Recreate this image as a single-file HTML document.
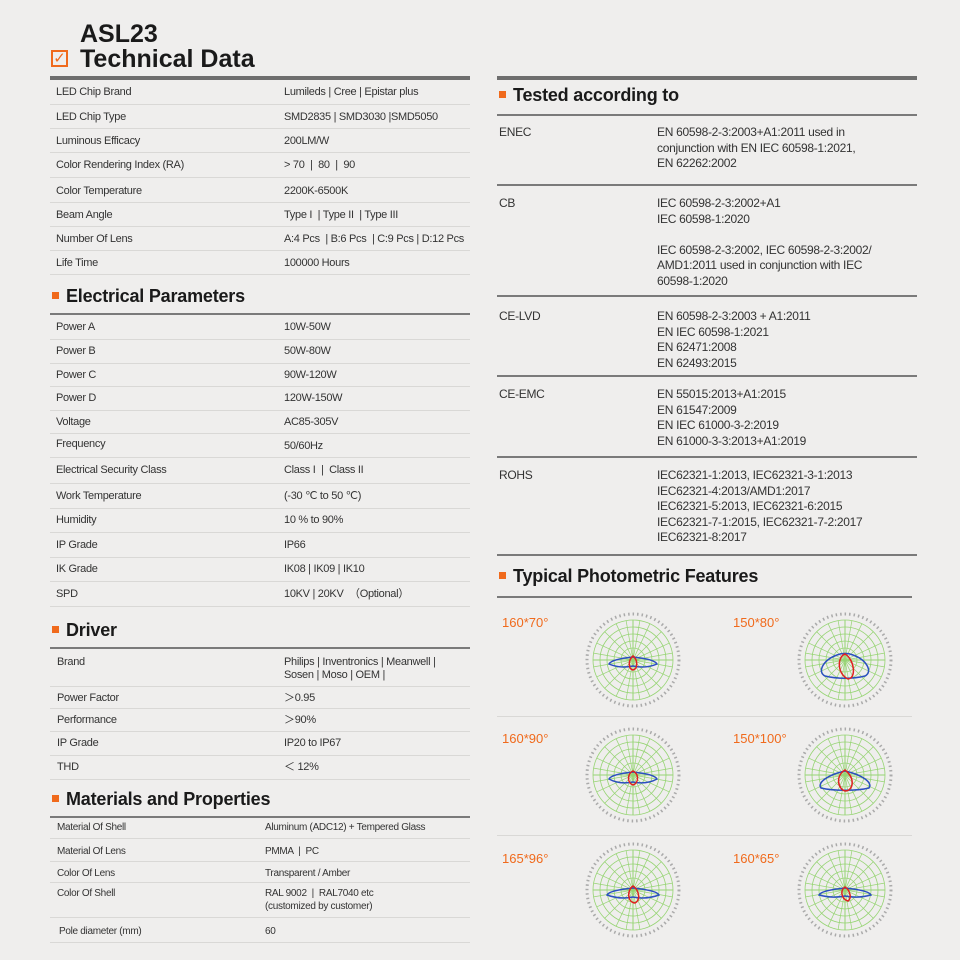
<!DOCTYPE html>
<html><head><meta charset="utf-8"><style>
body{margin:0;width:960px;height:960px;background:#efeeed;position:relative;overflow:hidden;font-family:"Liberation Sans",sans-serif;color:#333}
.t{position:absolute;white-space:nowrap;font-size:11px;line-height:13px;letter-spacing:-0.3px}
.r{position:absolute;white-space:nowrap;font-size:12px;line-height:15.5px;letter-spacing:-0.3px;color:#333}
.h{position:absolute;white-space:nowrap;font-size:18px;font-weight:bold;color:#1a1a1a;letter-spacing:-0.2px}
.h:before{content:"";display:inline-block;width:7px;height:7px;background:#f06a1c;margin-right:7px;vertical-align:3px}
.l{position:absolute;height:1px;background:#d9d8d6}
.L{position:absolute;height:2px;background:#7a7a7a}
.o{position:absolute;font-size:13px;color:#f06a1c;white-space:nowrap}
</style></head><body>
<div style="position:absolute;left:80px;top:20px;font-size:25px;font-weight:bold;color:#1a1a1a">ASL23</div>
<div style="position:absolute;left:51px;top:50px;width:17px;height:17px;border:2px solid #f06a1c;box-sizing:border-box;color:#f06a1c;font-size:15px;line-height:13px;text-align:center">✓</div>
<div style="position:absolute;left:80px;top:45px;font-size:25px;font-weight:bold;color:#1a1a1a">Technical Data</div>
<div style="position:absolute;left:50px;top:76px;width:420px;height:4px;background:#6e6e6e"></div>
<div style="position:absolute;left:497px;top:76px;width:420px;height:4px;background:#6e6e6e"></div>

<div class="t" style="left:56px;top:86px">LED Chip Brand</div><div class="t" style="left:284px;top:86px">Lumileds | Cree | Epistar plus</div>
<div class="l" style="left:50px;width:420px;top:104px"></div>
<div class="t" style="left:56px;top:111px">LED Chip Type</div><div class="t" style="left:284px;top:111px">SMD2835 | SMD3030 |SMD5050</div>
<div class="l" style="left:50px;width:420px;top:128px"></div>
<div class="t" style="left:56px;top:135px">Luminous Efficacy</div><div class="t" style="left:284px;top:135px">200LM/W</div>
<div class="l" style="left:50px;width:420px;top:152px"></div>
<div class="t" style="left:56px;top:159px">Color Rendering Index (RA)</div><div class="t" style="left:284px;top:159px">&gt; 70 &nbsp;| &nbsp;80 &nbsp;| &nbsp;90</div>
<div class="l" style="left:50px;width:420px;top:177px"></div>
<div class="t" style="left:56px;top:185px">Color Temperature</div><div class="t" style="left:284px;top:185px">2200K-6500K</div>
<div class="l" style="left:50px;width:420px;top:202px"></div>
<div class="t" style="left:56px;top:209px">Beam Angle</div><div class="t" style="left:284px;top:209px">Type I &nbsp;| Type II &nbsp;| Type III</div>
<div class="l" style="left:50px;width:420px;top:226px"></div>
<div class="t" style="left:56px;top:233px">Number Of Lens</div><div class="t" style="left:284px;top:233px">A:4 Pcs &nbsp;| B:6 Pcs &nbsp;| C:9 Pcs | D:12 Pcs</div>
<div class="l" style="left:50px;width:420px;top:250px"></div>
<div class="t" style="left:56px;top:257px">Life Time</div><div class="t" style="left:284px;top:257px">100000 Hours</div>
<div class="l" style="left:50px;width:420px;top:274px"></div>

<div class="h" style="left:52px;top:286px">Electrical Parameters</div>
<div class="L" style="left:50px;width:420px;top:313px"></div>
<div class="t" style="left:56px;top:321px">Power A</div><div class="t" style="left:284px;top:321px">10W-50W</div>
<div class="l" style="left:50px;width:420px;top:339px"></div>
<div class="t" style="left:56px;top:345px">Power B</div><div class="t" style="left:284px;top:345px">50W-80W</div>
<div class="l" style="left:50px;width:420px;top:363px"></div>
<div class="t" style="left:56px;top:369px">Power C</div><div class="t" style="left:284px;top:369px">90W-120W</div>
<div class="l" style="left:50px;width:420px;top:386px"></div>
<div class="t" style="left:56px;top:392px">Power D</div><div class="t" style="left:284px;top:392px">120W-150W</div>
<div class="l" style="left:50px;width:420px;top:410px"></div>
<div class="t" style="left:56px;top:416px">Voltage</div><div class="t" style="left:284px;top:416px">AC85-305V</div>
<div class="l" style="left:50px;width:420px;top:433px"></div>
<div class="t" style="left:56px;top:438px">Frequency</div><div class="t" style="left:284px;top:440px">50/60Hz</div>
<div class="l" style="left:50px;width:420px;top:457px"></div>
<div class="t" style="left:56px;top:464px">Electrical Security Class</div><div class="t" style="left:284px;top:464px">Class I &nbsp;| &nbsp;Class II</div>
<div class="l" style="left:50px;width:420px;top:483px"></div>
<div class="t" style="left:56px;top:490px">Work Temperature</div><div class="t" style="left:284px;top:490px">(-30 ℃ to 50 ℃)</div>
<div class="l" style="left:50px;width:420px;top:508px"></div>
<div class="t" style="left:56px;top:514px">Humidity</div><div class="t" style="left:284px;top:514px">10 % to 90%</div>
<div class="l" style="left:50px;width:420px;top:532px"></div>
<div class="t" style="left:56px;top:539px">IP Grade</div><div class="t" style="left:284px;top:539px">IP66</div>
<div class="l" style="left:50px;width:420px;top:557px"></div>
<div class="t" style="left:56px;top:563px">IK Grade</div><div class="t" style="left:284px;top:563px">IK08 | IK09 | IK10</div>
<div class="l" style="left:50px;width:420px;top:581px"></div>
<div class="t" style="left:56px;top:588px">SPD</div><div class="t" style="left:284px;top:588px">10KV | 20KV &nbsp;（Optional）</div>
<div class="l" style="left:50px;width:420px;top:606px"></div>

<div class="h" style="left:52px;top:620px">Driver</div>
<div class="L" style="left:50px;width:420px;top:647px"></div>
<div class="t" style="left:57px;top:656px">Brand</div><div class="t" style="left:284px;top:656px">Philips | Inventronics | Meanwell |</div><div class="t" style="left:284px;top:669px">Sosen | Moso | OEM |</div>
<div class="l" style="left:50px;width:420px;top:686px"></div>
<div class="t" style="left:57px;top:692px">Power Factor</div><div class="t" style="left:284px;top:692px">＞0.95</div>
<div class="l" style="left:50px;width:420px;top:708px"></div>
<div class="t" style="left:57px;top:714px">Performance</div><div class="t" style="left:284px;top:714px">＞90%</div>
<div class="l" style="left:50px;width:420px;top:731px"></div>
<div class="t" style="left:57px;top:737px">IP Grade</div><div class="t" style="left:284px;top:737px">IP20 to IP67</div>
<div class="l" style="left:50px;width:420px;top:755px"></div>
<div class="t" style="left:57px;top:761px">THD</div><div class="t" style="left:284px;top:761px">＜ 12%</div>
<div class="l" style="left:50px;width:420px;top:779px"></div>

<div class="h" style="left:52px;top:789px">Materials and Properties</div>
<div class="L" style="left:50px;width:420px;top:816px"></div>
<div class="t" style="left:57px;top:821px;font-size:10px">Material Of Shell</div><div class="t" style="left:265px;top:821px;font-size:10px">Aluminum (ADC12) + Tempered Glass</div>
<div class="l" style="left:50px;width:420px;top:838px"></div>
<div class="t" style="left:57px;top:845px;font-size:10px">Material Of Lens</div><div class="t" style="left:265px;top:845px;font-size:10px">PMMA &nbsp;| &nbsp;PC</div>
<div class="l" style="left:50px;width:420px;top:861px"></div>
<div class="t" style="left:57px;top:867px;font-size:10px">Color Of Lens</div><div class="t" style="left:265px;top:867px;font-size:10px">Transparent / Amber</div>
<div class="l" style="left:50px;width:420px;top:882px"></div>
<div class="t" style="left:57px;top:887px;font-size:10px">Color Of Shell</div><div class="t" style="left:265px;top:887px;font-size:10px">RAL 9002 &nbsp;| &nbsp;RAL7040 etc</div><div class="t" style="left:265px;top:900px;font-size:10px">(customized by customer)</div>
<div class="l" style="left:50px;width:420px;top:917px"></div>
<div class="t" style="left:59px;top:925px;font-size:10px">Pole diameter (mm)</div><div class="t" style="left:265px;top:925px;font-size:10px">60</div>
<div class="l" style="left:50px;width:420px;top:942px"></div>

<div class="h" style="left:499px;top:85px">Tested according to</div>
<div class="L" style="left:497px;width:420px;top:114px;height:2px"></div>
<div class="r" style="left:499px;top:125px">ENEC</div>
<div class="r" style="left:657px;top:125px">EN 60598-2-3:2003+A1:2011 used in<br>conjunction with EN IEC 60598-1:2021,<br>EN 62262:2002</div>
<div class="L" style="left:497px;width:420px;top:184px"></div>
<div class="r" style="left:499px;top:196px">CB</div>
<div class="r" style="left:657px;top:196px">IEC 60598-2-3:2002+A1<br>IEC 60598-1:2020<br><br>IEC 60598-2-3:2002, IEC 60598-2-3:2002/<br>AMD1:2011 used in conjunction with IEC<br>60598-1:2020</div>
<div class="L" style="left:497px;width:420px;top:295px"></div>
<div class="r" style="left:499px;top:309px">CE-LVD</div>
<div class="r" style="left:657px;top:309px">EN 60598-2-3:2003 + A1:2011<br>EN IEC 60598-1:2021<br>EN 62471:2008<br>EN 62493:2015</div>
<div class="L" style="left:497px;width:420px;top:375px"></div>
<div class="r" style="left:499px;top:387px">CE-EMC</div>
<div class="r" style="left:657px;top:387px">EN 55015:2013+A1:2015<br>EN 61547:2009<br>EN IEC 61000-3-2:2019<br>EN 61000-3-3:2013+A1:2019</div>
<div class="L" style="left:497px;width:420px;top:456px"></div>
<div class="r" style="left:499px;top:468px">ROHS</div>
<div class="r" style="left:657px;top:468px">IEC62321-1:2013, IEC62321-3-1:2013<br>IEC62321-4:2013/AMD1:2017<br>IEC62321-5:2013, IEC62321-6:2015<br>IEC62321-7-1:2015, IEC62321-7-2:2017<br>IEC62321-8:2017</div>
<div class="L" style="left:497px;width:420px;top:554px"></div>
<div class="h" style="left:499px;top:566px">Typical Photometric Features</div>
<div class="L" style="left:497px;width:415px;top:596px"></div>
<div class="l" style="left:497px;width:415px;top:716px"></div>
<div class="l" style="left:497px;width:415px;top:835px"></div>

<div class="o" style="left:502px;top:615px">160*70°</div>
<div class="o" style="left:733px;top:615px">150*80°</div>
<div class="o" style="left:502px;top:731px">160*90°</div>
<div class="o" style="left:733px;top:731px">150*100°</div>
<div class="o" style="left:502px;top:851px">165*96°</div>
<div class="o" style="left:733px;top:851px">160*65°</div>

<svg width="960" height="960" style="position:absolute;left:0;top:0">
<defs>
<g id="g" stroke="#96d473" stroke-width="0.8" fill="none">
<circle r="40"/><circle r="33"/><circle r="26"/><circle r="19"/><circle r="12"/>
<g stroke-width="0.7">
<line x1="-40" y1="0" x2="40" y2="0" stroke-width="1"/><line x1="0" y1="-40" x2="0" y2="40" stroke-width="1"/>
<line x1="-36.3" y1="-16.9" x2="36.3" y2="16.9"/><line x1="-36.3" y1="16.9" x2="36.3" y2="-16.9"/>
<line x1="-28.3" y1="-28.3" x2="28.3" y2="28.3"/><line x1="-28.3" y1="28.3" x2="28.3" y2="-28.3"/>
<line x1="-16.9" y1="-36.3" x2="16.9" y2="36.3"/><line x1="-16.9" y1="36.3" x2="16.9" y2="-36.3"/>
<line x1="-39.4" y1="-6.9" x2="39.4" y2="6.9"/><line x1="-39.4" y1="6.9" x2="39.4" y2="-6.9"/>
<line x1="-6.9" y1="-39.4" x2="6.9" y2="39.4"/><line x1="-6.9" y1="39.4" x2="6.9" y2="-39.4"/>
</g>
<circle r="46" stroke="#aaa" stroke-width="3" stroke-dasharray="1.5 3"/>
</g>
</defs>
<g transform="translate(633,660)"><use href="#g"/>
<path d="M0,-3 C-10,-2 -22,0 -24,4 C-15,8 -5,7 0,6 C5,7 15,8 24,4 C22,0 10,-2 0,-3Z" fill="none" stroke="#2b4fc0" stroke-width="1.5"/>
<path d="M0,-4 C-5,0 -5,9 0,10 C5,9 5,0 0,-4Z" fill="none" stroke="#e02020" stroke-width="1.5"/></g>
<g transform="translate(845,660)"><use href="#g"/>
<path d="M-8,-5 C-22,0 -28,12 -20,16 C-8,19 8,19 20,16 C28,12 22,0 8,-5 C3,-7 -3,-7 -8,-5Z" fill="none" stroke="#2b4fc0" stroke-width="1.5"/>
<path d="M0,-6 C-8,-3 -8,14 3,19 C12,18 9,-1 0,-6Z" fill="none" stroke="#e02020" stroke-width="1.5"/></g>
<g transform="translate(633,775)"><use href="#g"/>
<path d="M0,-3 C-10,-2 -22,0 -24,4 C-15,9 -5,8 0,7 C5,8 15,9 24,4 C22,0 10,-2 0,-3Z" fill="none" stroke="#2b4fc0" stroke-width="1.5"/>
<path d="M0,-4 C-6,-1 -6,8 0,10 C6,8 6,-1 0,-4Z" fill="none" stroke="#e02020" stroke-width="1.5"/></g>
<g transform="translate(845,775)"><use href="#g"/>
<path d="M0,-4 C-18,0 -28,8 -24,13 C-12,16 12,16 24,13 C28,8 18,0 0,-4Z" fill="none" stroke="#2b4fc0" stroke-width="1.5"/>
<path d="M0,-5 C-10,1 -7,14 0,16 C8,16 11,4 0,-5Z" fill="none" stroke="#e02020" stroke-width="1.5"/></g>
<g transform="translate(633,890)"><use href="#g"/>
<path d="M0,-2 C-10,-1 -24,1 -26,5 C-15,9 -5,8 0,7 C5,8 15,9 26,5 C24,1 10,-1 0,-2Z" fill="none" stroke="#2b4fc0" stroke-width="1.5"/>
<path d="M0,-4 C-6,0 -6,12 2,13 C8,10 6,0 0,-4Z" fill="none" stroke="#e02020" stroke-width="1.5"/></g>
<g transform="translate(845,890)"><use href="#g"/>
<path d="M0,-2 C-10,-1 -24,1 -26,5 C-15,8 -5,7 0,6 C5,7 15,8 26,5 C24,1 10,-1 0,-2Z" fill="none" stroke="#2b4fc0" stroke-width="1.5"/>
<path d="M0,-3 C-5,0 -4,9 3,11 C7,8 5,0 0,-3Z" fill="none" stroke="#e02020" stroke-width="1.5"/></g>
</svg>
</body></html>
